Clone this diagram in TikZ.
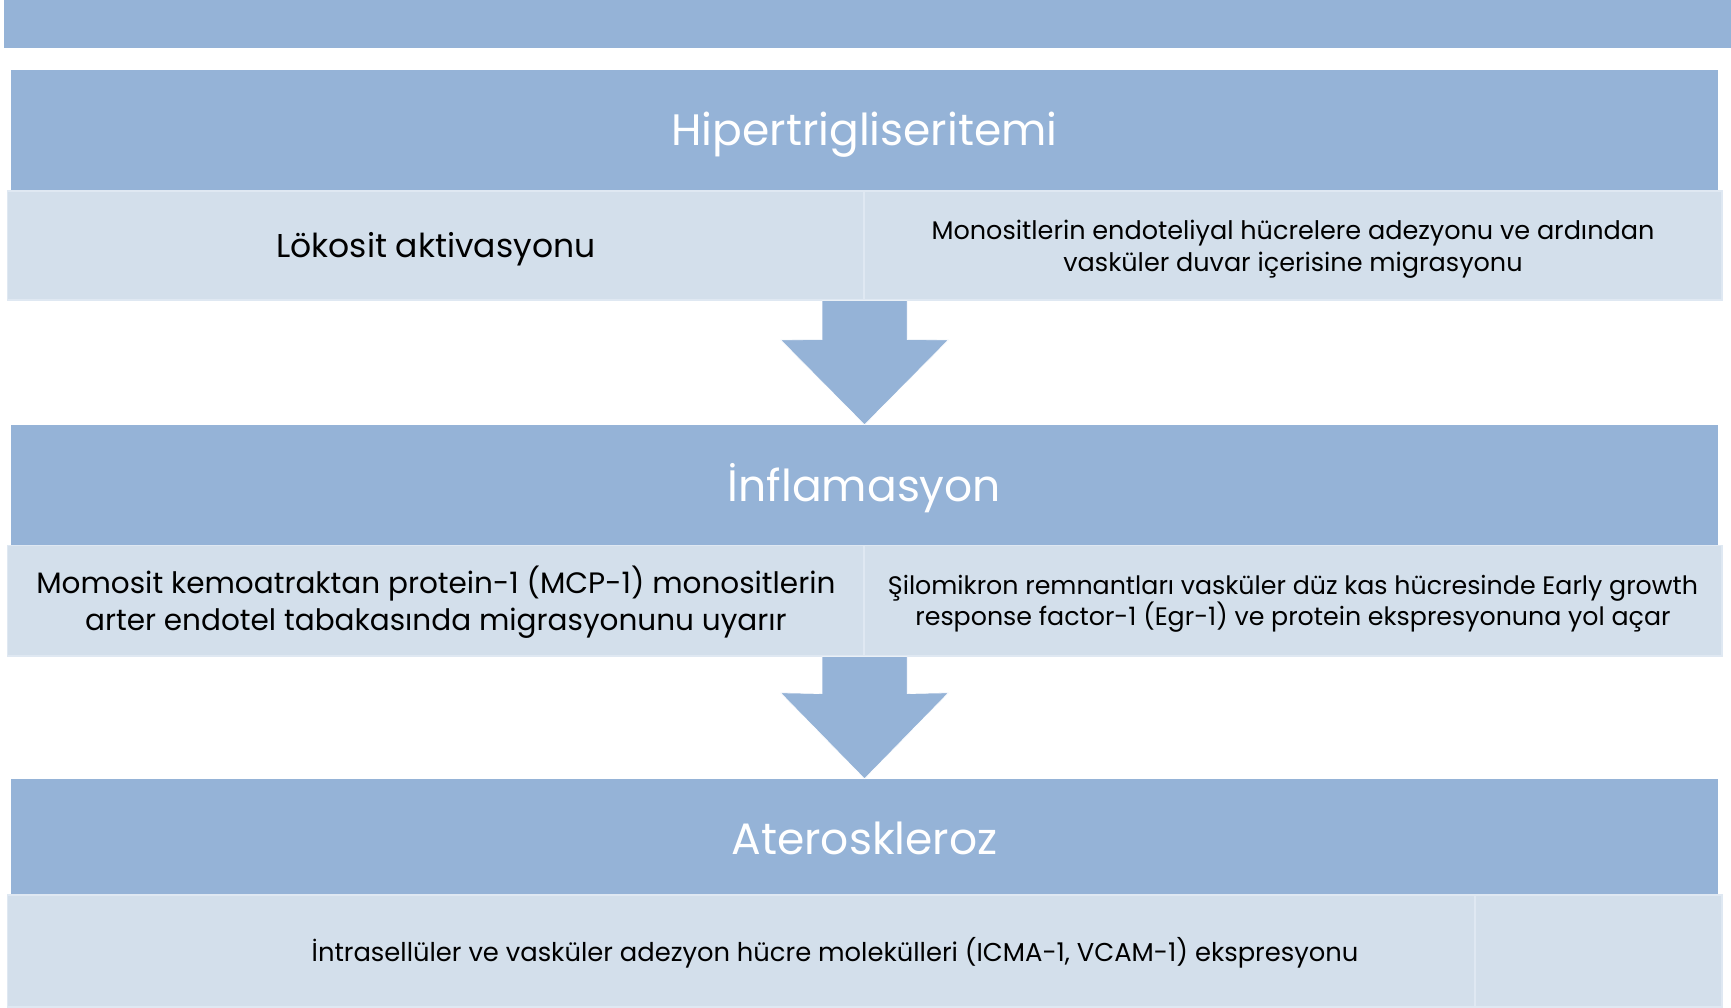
\documentclass[tikz,border=0pt]{standalone}
\usepackage{fontspec}
\setmainfont{Poppins}
\usetikzlibrary{calc}
\definecolor{hdr}{HTML}{95B3D7}
\definecolor{cell}{HTML}{D3DFEB}
\definecolor{cellline}{HTML}{DFE8F2}
\begin{document}
\begin{tikzpicture}[x=1pt,y=-1pt,
  hdrbox/.style={rectangle,fill=hdr,inner sep=0pt},
  hdrtext/.style={inner sep=0pt,anchor=base,text=white,font=\fontsize{44}{50}\selectfont},
  cellbox/.style={rectangle,fill=cell,draw=cellline,line width=1.2pt,inner sep=0pt},
  celltext/.style={inner sep=0pt,align=center,text=black},
  blockarrow/.style={fill=hdr,draw=white,line width=0.6pt,line join=miter}]
\useasboundingbox (0,0) rectangle (1731,1007);
% top band
\node[hdrbox,minimum width=1726.6pt,minimum height=47.5pt] (band) at (867.7,23.75) {};
% level 1
\node[hdrbox,minimum width=1707pt,minimum height=121.5pt] (h1) at (864.5,130.25) {};
\node[hdrtext] (h1t) at ($(h1.center)+(0,14.75)$) {Hipertrigliseritemi};
\node[cellbox,minimum width=856.3pt,minimum height=109pt] (r1L) at (435.85,245.5) {};
\node[cellbox,minimum width=858pt,minimum height=109pt] (r1R) at (1293,245.5) {};
\node[celltext,anchor=base,font=\fontsize{33}{38}\selectfont] (t1L) at ($(r1L.center)+(0,12.2)$) {Lökosit aktivasyonu};
\node[celltext,font=\fontsize{25.5}{32}\selectfont] (t1R) at ($(r1R.center)+(0,3.3)$) {Monositlerin endoteliyal hücrelere adezyonu ve ardından\\vasküler duvar içerisine migrasyonu};
% level 2
\node[hdrbox,minimum width=1707pt,minimum height=120.5pt] (h2) at (864.5,485.25) {};
\node[hdrtext] (h2t) at ($(h2.center)+(0,15.75)$) {İnflamasyon};
\node[cellbox,minimum width=856.3pt,minimum height=110.5pt] (r2L) at (435.85,600.75) {};
\node[cellbox,minimum width=858pt,minimum height=110.5pt] (r2R) at (1293,600.75) {};
\node[celltext,font=\fontsize{29.5}{37}\selectfont] (t2L) at ($(r2L.center)+(0,1)$) {Momosit kemoatraktan protein-1 (MCP-1) monositlerin\\arter endotel tabakasında migrasyonunu uyarır};
\node[celltext,font=\fontsize{25.3}{31}\selectfont] (t2R) at ($(r2R.center)+(0,3.3)$) {Şilomikron remnantları vasküler düz kas hücresinde Early growth\\response factor-1 (Egr-1) ve protein ekspresyonuna yol açar};
% level 3
\node[hdrbox,minimum width=1707pt,minimum height=116pt] (h3) at (864.5,837) {};
\node[hdrtext] (h3t) at ($(h3.center)+(0,17.3)$) {Ateroskleroz};
\node[cellbox,minimum width=1467.3pt,minimum height=112pt] (r3L) at (741.35,951) {};
\node[cellbox,minimum width=247pt,minimum height=112pt] (r3R) at (1598.5,951) {};
\node[celltext,font=\fontsize{25.8}{30}\selectfont] (t3) at (835,953) {İntrasellüler ve vasküler adezyon hücre molekülleri (ICMA-1, VCAM-1) ekspresyonu};
% arrow 1
\coordinate (a1s) at (r1L.south east);
\coordinate (a1t) at (h2.north);
\filldraw[blockarrow] ($(a1s)+(-42.5,0)$) -- ($(a1s)+(42.5,0)$) -- ($(a1s)+(42.5,39)$) -- ($(a1t)+(84,-85)$) -- (a1t) -- ($(a1t)+(-84,-85)$) -- ($(a1s)+(-42.5,39)$) -- cycle;
% arrow 2
\coordinate (a2s) at (r2L.south east);
\coordinate (a2t) at (h3.north);
\filldraw[blockarrow] ($(a2s)+(-42.5,0)$) -- ($(a2s)+(42.5,0)$) -- ($(a2s)+(42.5,37)$) -- ($(a2t)+(84,-86)$) -- (a2t) -- ($(a2t)+(-84,-86)$) -- ($(a2s)+(-42.5,37)$) -- cycle;
\end{tikzpicture}
\end{document}
